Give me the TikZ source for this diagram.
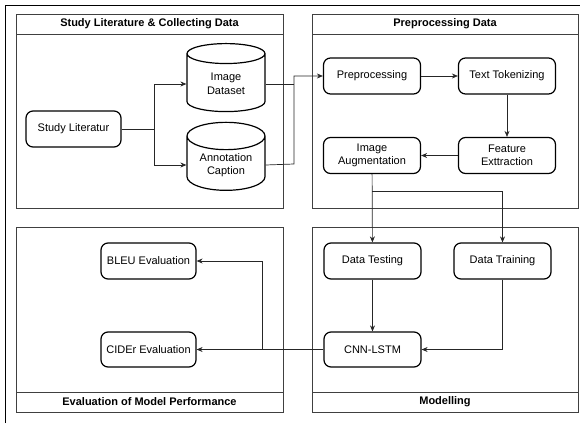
\documentclass[tikz,border=0pt]{standalone}
\usepackage{fontspec}
\setmainfont{Liberation Sans}
\usetikzlibrary{arrows.meta, shapes.geometric}

\begin{document}
\begin{tikzpicture}[x=1pt, y=-1pt, >={Stealth[length=6pt, width=5pt]},
    every node/.style={font=\fontsize{11}{13.5}\selectfont},
    proc/.style={draw, line width=1.2pt, rounded corners=7pt, minimum width=97pt, minimum height=36pt, align=center, inner sep=1pt},
    db/.style={cylinder, shape border rotate=90, shape aspect=0.5, draw, line width=1.2pt, minimum width=78pt, minimum height=68pt, align=center, inner sep=1pt},
    panel/.style={draw=black!75, line width=0.8pt},
    link/.style={draw=black!85, line width=0.7pt},
    paneltitle/.style={font=\fontsize{11}{13}\selectfont\bfseries}]
    % --- FRAME ---
    \useasboundingbox (0,0) rectangle (580,423);
    \draw[line width=0.8pt] (5,423) -- (5,5) -- (580,5);

    % --- PANELS ---
    \draw[panel] (16,14) rectangle (283,208);
    \draw[panel] (16,34) -- (283,34);
    \draw[panel] (312,14) rectangle (578,208);
    \draw[panel] (312,34) -- (578,34);
    \draw[panel] (16,227) rectangle (283,412);
    \draw[panel] (16,392) -- (283,392);
    \draw[panel] (312,227) rectangle (578,412);
    \draw[panel] (312,392) -- (578,392);

    \node[paneltitle] (t1) at (149.5,24) {Study Literature \& Collecting Data};
    \node[paneltitle] (t2) at (445,24) {Preprocessing Data};
    \node[paneltitle] (t3) at (149.5,402) {Evaluation of Model Performance};
    \node[paneltitle] (t4) at (445,402) {Modelling};

    % --- NODES ---
    \node[proc, minimum width=95pt] (lit) at (73.5,129) {Study Literatur};
    \node[db] (imgdb) at (226,84) {Image\\Dataset};
    \node[db] (anndb) at (226,165) {Annotation\\Caption};

    \node[proc] (prep) at (372,76) {Preprocessing};
    \node[proc] (tok) at (507,76) {Text Tokenizing};
    \node[proc] (feat) at (507,155.5) {Feature\\Exttraction};
    \node[proc] (aug) at (372,155.5) {Image\\Augmentation};

    \node[proc] (test) at (372.5,261) {Data Testing};
    \node[proc] (train) at (502.5,261) {Data Training};
    \node[proc, minimum height=35pt] (cnn) at (372.5,349.5) {CNN-LSTM};

    \node[proc, minimum width=95pt] (bleu) at (148.5,261) {BLEU Evaluation};
    \node[proc, minimum width=95pt, minimum height=35pt] (cider) at (148.5,349.5) {CIDEr Evaluation};

    % --- CONNECTORS ---
    \coordinate (split1) at (154,129);
    \coordinate (join1) at (294,164);
    \coordinate (split2) at (372,191);
    \coordinate (split3) at (262,349.5);

    \draw[link, ->] (lit.east) -- (split1) |- (imgdb.west);
    \draw[link, ->] (split1) |- (anndb.west);
    \draw[link] (imgdb.east) -- (imgdb.east -| join1);
    \draw[link, ->] (anndb.east) -- (join1) |- (prep.west);

    \draw[link, ->] (prep) -- (tok);
    \draw[link, ->] (tok) -- (feat);
    \draw[link, ->] (feat) -- (aug);

    \draw[link, ->] (aug) -- (test);
    \draw[link, ->] (split2) -| (train.north);
    \draw[link, ->] (test) -- (cnn);
    \draw[link, ->] (train.south) |- (cnn.east);

    \draw[link, ->] (cnn.west) -- (cider.east);
    \draw[link, ->] (split3) |- (bleu.east);
\end{tikzpicture}
\end{document}
